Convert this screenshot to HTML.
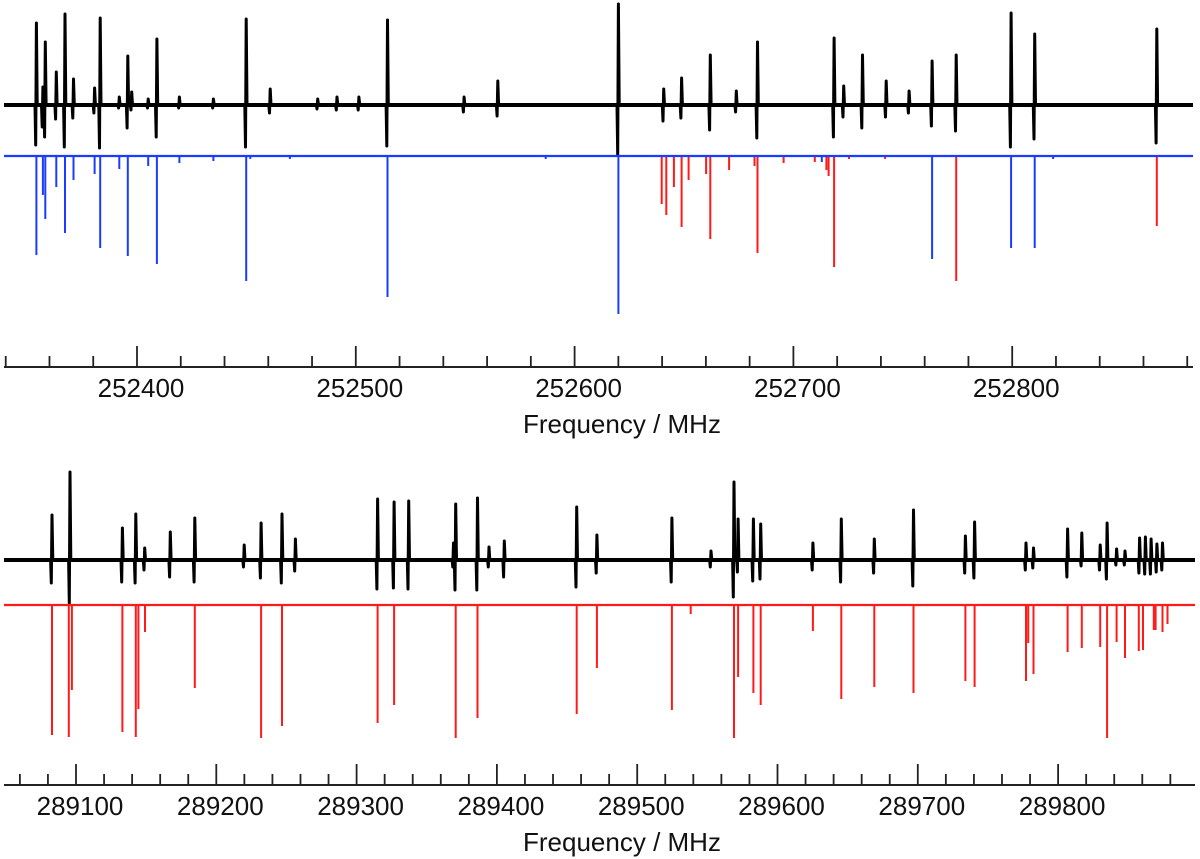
<!DOCTYPE html>
<html><head><meta charset="utf-8"><style>
html,body{margin:0;padding:0;background:#fff;}
svg{display:block;font-family:"Liberation Sans",Arial,sans-serif;}
</style></head><body>
<svg id="chart" width="1200" height="859" viewBox="0 0 1200 859" xmlns="http://www.w3.org/2000/svg">
<g id="top"></g>
<g id="bot"></g>
</svg>
<script>
// ---- Top panel data ----
const topObsFreq = [252354.0,252357.0,252358.1,252363.1,252367.1,252371.0,252380.6,252383.2,252391.9,252395.8,252397.6,252405.1,252409.1,252419.4,252434.9,252449.9,252460.9,252482.6,252491.4,252501.4,252514.5,252549.5,252564.9,252620.0,252640.7,252648.9,252662.0,252673.9,252683.6,252718.6,252723.0,252731.6,252742.4,252752.9,252763.4,252774.4,252799.5,252810.3,252866.1];
const topObsUp   = [82,18,63,33,91,26,17,87,8,49,13,6,66,8,6,86,16,6,8,8,85,8,24,101,16,27,50,14,63,67,19,50,24,14,44,50,92,71,76];
const topObsDown = [40,22,32,14,42,13,8,43,3,23,5,3,32,3,3,42,8,4,5,5,41,7,11,50,16,13,25,7,33,32,12,23,12,8,21,26,42,34,38];
const topCalcFreq = [252354.0,252357.0,252358.1,252363.1,252367.1,252371.0,252380.6,252383.2,252391.9,252395.8,252405.1,252409.1,252419.4,252434.9,252449.9,252451.8,252469.9,252514.5,252586.8,252620.0,252639.8,252641.9,252645.4,252648.9,252652.1,252660.1,252662.0,252670.6,252682.2,252683.6,252695.5,252709.8,252713.0,252715.1,252716.1,252718.6,252725.4,252741.9,252763.4,252774.4,252799.5,252810.3,252818.7,252866.1];
const topCalcInt  = [99,39,63,31,77,24,18,92,13,100,10,108,7,5,125,3,3,141,3,158,48,59,31,71,24,18,83,14,10,97,7,6,6,14,20,111,3,3,103,125,92,92,3,70];
const topCalcSet  = ["b","b","b","b","b","b","b","b","b","b","b","b","b","b","b","b","b","b","b","b","r","r","r","r","r","r","r","r","r","r","r","r","b","r","r","r","r","r","b","r","b","b","b","r"];
const topTicks = [252400,252500,252600,252700,252800];
// ---- Bottom panel data ----
const botObsFreq = [289082.9,289095.7,289133.1,289142.6,289149.0,289167.2,289184.7,289219.9,289231.9,289246.8,289256.4,289315.0,289326.7,289337.1,289369.1,289370.6,289386.2,289394.4,289405.3,289456.9,289471.3,289524.7,289552.6,289569.0,289571.9,289582.8,289588.0,289625.2,289645.5,289669.0,289696.9,289733.9,289740.5,289777.1,289782.5,289806.8,289816.9,289830.0,289834.9,289841.7,289847.7,289858.1,289862.2,289866.3,289870.4,289874.4];
const botObsUp   = [45,88,32,46,12,28,42,15,37,46,21,61,58,59,17,56,62,13,19,53,25,42,9,78,41,41,36,17,41,21,50,24,38,17,12,31,27,15,37,11,9,22,23,21,16,17];
const botObsDown = [23,43,22,23,10,17,22,7,18,23,11,29,28,29,7,30,30,7,17,27,13,22,7,37,12,21,19,10,22,13,26,13,18,10,8,17,6,10,19,5,5,13,14,14,12,10];
const botCalcFreq = [289082.9,289094.9,289097.1,289133.1,289142.6,289144.5,289149.2,289184.7,289231.9,289246.8,289315.0,289326.7,289370.6,289386.2,289456.9,289471.3,289524.7,289538.1,289569.0,289571.9,289582.8,289588.0,289625.2,289645.5,289669.0,289696.9,289733.9,289740.5,289777.1,289778.7,289782.5,289806.8,289816.9,289830.0,289834.9,289841.7,289847.7,289857.5,289860.5,289868.2,289869.5,289874.4,289878.0];
const botCalcInt  = [130,132,85,127,132,104,27,83,133,121,118,100,133,113,109,63,105,9,133,72,88,100,26,94,82,88,76,82,76,38,69,47,43,42,133,37,53,46,45,25,25,27,19];
const botTicks = [289100,289200,289300,289400,289500,289600,289700,289800];

const NS = "http://www.w3.org/2000/svg";
function mk(tag, attrs, parent){ const e=document.createElementNS(NS,tag); for(const k in attrs) e.setAttribute(k,attrs[k]); parent.appendChild(e); return e; }

function panel(g, cfg){
  const xs = f => cfg.x0 + (f - cfg.f0) * cfg.k;
  const xl = 4, xr = cfg.xr;
  const idx = cfg.obsF.map((f,i)=>i).sort((a,b)=>cfg.obsF[a]-cfg.obsF[b]);
  let d = `M${xl},${cfg.yObs}`;
  idx.forEach(i=>{
    const x = xs(cfg.obsF[i]);
    d += ` L${(x-1.4).toFixed(1)},${cfg.yObs} L${(x-0.7).toFixed(1)},${cfg.yObs+cfg.obsDown[i]} L${x.toFixed(1)},${cfg.yObs-cfg.obsUp[i]} L${(x+0.8).toFixed(1)},${cfg.yObs}`;
  });
  d += ` L${xr},${cfg.yObs}`;
  const base = mk('line',{x1:xl,y1:cfg.yObs,x2:xr,y2:cfg.yObs,stroke:'#000','stroke-width':4},g);
  
  
  const p = mk('path',{d:d,fill:'none',stroke:'#000','stroke-width':3,'stroke-linejoin':'round'},g);
  
  
  cfg.calcF.forEach((f,i)=>{
    const x = xs(f);
    const col = (cfg.set ? cfg.set[i] : 'r')==='b' ? '#1a3cff' : '#ff1a1a';
    const l = mk('line',{x1:x.toFixed(1),y1:cfg.yCalc,x2:x.toFixed(1),y2:cfg.yCalc+cfg.calcI[i],stroke:col,'stroke-width':2},g);
    
    
  });
  const cb = mk('line',{x1:xl,y1:cfg.yCalc,x2:xr,y2:cfg.yCalc,stroke:cfg.baseCol,'stroke-width':2.2},g);
  
  
  const ax = mk('line',{x1:xl,y1:cfg.yAx,x2:xr,y2:cfg.yAx,stroke:'#222','stroke-width':2},g);
  
  
  const fStart = Math.ceil((cfg.f0 - (cfg.x0-xl)/cfg.k)/20)*20;
  for(let f=fStart; xs(f)<=xr; f+=20){
    const major = (f % 100)===0;
    const t = mk('line',{x1:xs(f),y1:cfg.yAx,x2:xs(f),y2:cfg.yAx-(major?21:11),stroke:'#222','stroke-width':1.8},g);
    
    
  }
  cfg.ticks.forEach(f=>{
    const t = mk('text',{x:xs(f)+4,y:cfg.yAx+30,'font-size':26,'text-anchor':'middle',fill:'#111'},g);
    t.textContent = String(f);
    
    
  });
  const tt = mk('text',{x:622,y:cfg.yAx+66,'font-size':26,'text-anchor':'middle',fill:'#111'},g);
  tt.textContent = 'Frequency / MHz';
  
  
}

panel(document.getElementById('top'), {x0:137,f0:252400,k:2.188,xr:1193,yObs:105,yCalc:156,yAx:367,
  obsF:topObsFreq,obsUp:topObsUp,obsDown:topObsDown,calcF:topCalcFreq,calcI:topCalcInt,set:topCalcSet,baseCol:'#1a3cff',ticks:topTicks});
panel(document.getElementById('bot'), {x0:76,f0:289100,k:1.403,xr:1195,yObs:560,yCalc:605,yAx:785,
  obsF:botObsFreq,obsUp:botObsUp,obsDown:botObsDown,calcF:botCalcFreq,calcI:botCalcInt,set:null,baseCol:'#ff1a1a',ticks:botTicks});
</script>
</body></html>
